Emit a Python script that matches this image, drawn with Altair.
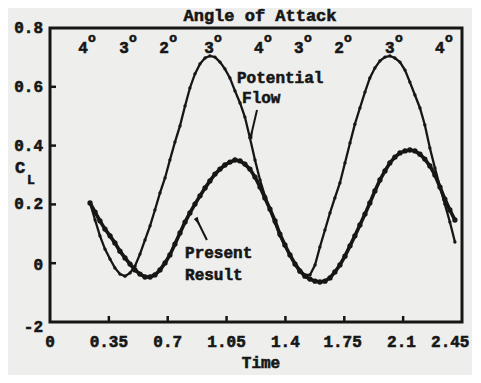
import altair as alt
import pandas as pd

# ---- data ----
time = [0.238, 0.268, 0.297, 0.327, 0.357, 0.386, 0.416, 0.446, 0.476, 0.505,
        0.535, 0.565, 0.595, 0.624, 0.654, 0.684, 0.713, 0.743, 0.773, 0.803,
        0.832, 0.862, 0.892, 0.922, 0.951, 0.981, 1.011, 1.040, 1.070, 1.100,
        1.130, 1.159, 1.189, 1.219, 1.249, 1.278, 1.308, 1.338, 1.367, 1.397,
        1.427, 1.457, 1.486, 1.516, 1.546, 1.576, 1.605, 1.635, 1.665, 1.694,
        1.724, 1.754, 1.784, 1.813, 1.843, 1.873, 1.902, 1.932, 1.962, 1.992,
        2.021, 2.051, 2.081, 2.111, 2.140, 2.170, 2.200, 2.229, 2.259, 2.289,
        2.319, 2.348, 2.378, 2.408]

potential_flow = [0.205, 0.147, 0.093, 0.048, 0.014, -0.016, -0.037, -0.044, -0.033, -0.010,
                  0.031, 0.079, 0.127, 0.181, 0.239, 0.290, 0.351, 0.412, 0.467, 0.535,
                  0.596, 0.644, 0.678, 0.698, 0.705, 0.701, 0.684, 0.661, 0.630, 0.586,
                  0.545, 0.497, 0.426, 0.351, 0.283, 0.229, 0.181, 0.137, 0.093, 0.059,
                  0.028, 0.001, -0.023, -0.040, -0.040, -0.006, 0.055, 0.113, 0.171, 0.222,
                  0.273, 0.341, 0.409, 0.473, 0.528, 0.582, 0.630, 0.664, 0.688, 0.701,
                  0.705, 0.698, 0.684, 0.657, 0.616, 0.572, 0.528, 0.470, 0.392, 0.324,
                  0.259, 0.201, 0.140, 0.072]

present_result = [0.205, 0.174, 0.144, 0.116, 0.093, 0.069, 0.041, 0.018, -0.003, -0.023,
                  -0.037, -0.047, -0.047, -0.040, -0.023, 0.001, 0.028, 0.065, 0.103, 0.140,
                  0.171, 0.201, 0.229, 0.256, 0.280, 0.303, 0.320, 0.334, 0.344, 0.351,
                  0.348, 0.337, 0.320, 0.293, 0.259, 0.222, 0.184, 0.144, 0.099, 0.062,
                  0.028, -0.003, -0.027, -0.044, -0.054, -0.061, -0.064, -0.061, -0.050, -0.030,
                  -0.006, 0.024, 0.059, 0.093, 0.130, 0.167, 0.205, 0.246, 0.283, 0.314,
                  0.341, 0.361, 0.375, 0.382, 0.385, 0.382, 0.371, 0.354, 0.331, 0.300,
                  0.259, 0.218, 0.181, 0.147]

angle_time = [0.214, 0.458, 0.696, 0.963, 1.260, 1.498, 1.736, 2.039, 2.336]
angle_label = ["4", "3", "2", "3", "4", "3", "2", "3", "4"]
angle_level = 0.732

x_tick_labels = ["0", "0.35", "0.7", "1.05", "1.4", "1.75", "2.1", "2.45"]
x_label_at = [0, 0.35, 0.7, 1.05, 1.4, 1.74, 2.09, 2.38]
y_tick_labels = ["-2", "0", "0.2", "0.4", "0.6", "0.8"]
y_label_at = [-0.217, -0.005, 0.2, 0.4, 0.6, 0.8]
x_inner_ticks = [0.35, 0.7, 1.05, 1.4, 1.75, 2.1]
y_inner_ticks = [0, 0.2, 0.4, 0.6]

note_text = ["Potential", "Flow", "Present", "Result"]
note_time = [1.112, 1.142, 0.803, 0.803]
note_value = [0.630, 0.562, 0.035, -0.040]

arrow_t = [1.231, 0.933]
arrow_v = [0.521, 0.079]
arrow_t2 = [1.198, 0.880]
arrow_v2 = [0.440, 0.140]
arrow_angle = [195, 331]

# ---- styling ----
W, H = 412, 294
FONT = "Liberation Mono"
INK = "#161616"
BG = "#eeeeec"
TXT = dict(font=FONT, fontWeight="bold", color=INK, stroke=INK, strokeWidth=0.6)

curves = pd.concat([
    pd.DataFrame({"t": time, "v": potential_flow, "s": "Potential Flow"}),
    pd.DataFrame({"t": time, "v": present_result, "s": "Present Result"}),
])

xs = alt.Scale(domain=[0, 2.45], nice=False, zero=False)
ys = alt.Scale(domain=[-0.2, 0.8], nice=False, zero=False)

X = alt.X("t:Q", scale=xs, axis=None)
Y = alt.Y("v:Q", scale=ys, axis=None)

base = alt.Chart(curves)
pot = base.transform_filter(alt.datum.s == "Potential Flow")
pres = base.transform_filter(alt.datum.s == "Present Result")

pot_line = pot.mark_line(color=INK, strokeWidth=2.3).encode(x=X, y=Y)
pot_pts = pot.mark_circle(color=INK, size=11, opacity=1).encode(x=X, y=Y)
pres_line = pres.mark_line(color=INK, strokeWidth=3.6).encode(x=X, y=Y)
pres_pts = pres.mark_circle(color=INK, size=28, opacity=1).encode(x=X, y=Y)

xt = alt.Chart(pd.DataFrame({"t": x_inner_ticks})).mark_rule(color=INK, strokeWidth=2.5).encode(
    x=X, y=alt.value(H), y2=alt.value(H - 6))
yt = alt.Chart(pd.DataFrame({"v": y_inner_ticks})).mark_rule(color=INK, strokeWidth=2.5).encode(
    y=Y, x=alt.value(0), x2=alt.value(6))

xl = alt.Chart(pd.DataFrame({"t": x_label_at, "lab": x_tick_labels})).mark_text(
    fontSize=16, align="center", baseline="middle", **TXT).encode(
    x=X, y=alt.value(H + 20), text="lab:N")
yl = alt.Chart(pd.DataFrame({"v": y_label_at, "lab": y_tick_labels})).mark_text(
    fontSize=16, align="right", baseline="middle", **TXT).encode(
    y=Y, x=alt.value(-7), text="lab:N")

angles = pd.DataFrame({"t": angle_time, "lab": angle_label, "v": [angle_level] * len(angle_time)})
ang_txt = alt.Chart(angles).mark_text(fontSize=16, baseline="middle", align="center", dx=-3,
                                      **TXT).encode(x=X, y=Y, text="lab:N")
ang_o = alt.Chart(angles).mark_text(fontSize=13, baseline="middle", align="center", dx=6, dy=-10,
                                    **TXT).encode(x=X, y=Y, text=alt.value("o"))

notes = pd.DataFrame({"t": note_time, "v": note_value, "txt": note_text})
note_txt = alt.Chart(notes).mark_text(fontSize=16, align="left", baseline="middle", **TXT).encode(
    x=X, y=Y, text="txt:N")

arrows = pd.DataFrame({"t": arrow_t, "v": arrow_v, "t2": arrow_t2, "v2": arrow_v2, "a": arrow_angle})
arr_line = alt.Chart(arrows).mark_rule(color=INK, strokeWidth=2).encode(
    x=X, y=Y, x2="t2:Q", y2="v2:Q")
arr_head = alt.Chart(arrows).mark_point(shape="M0,1 L0.45,-1 L-0.45,-1 Z", filled=True, color=INK,
                                        size=90, opacity=1).encode(
    x=alt.X("t2:Q", scale=xs, axis=None), y=alt.Y("v2:Q", scale=ys, axis=None),
    angle=alt.Angle("a:Q", scale=None))

one = pd.DataFrame({"k": [0]})
c_txt = alt.Chart(one).mark_text(fontSize=17, align="center", baseline="middle", **TXT).encode(
    x=alt.value(-30), y=alt.value(140), text=alt.value("C"))
l_txt = alt.Chart(one).mark_text(fontSize=13, align="center", baseline="middle", **TXT).encode(
    x=alt.value(-19), y=alt.value(152), text=alt.value("L"))
title_txt = alt.Chart(one).mark_text(fontSize=17, align="center", baseline="middle", **TXT).encode(
    x=alt.value(210), y=alt.value(-12), text=alt.value("Angle of Attack"))
time_txt = alt.Chart(one).mark_text(fontSize=16, align="center", baseline="middle", **TXT).encode(
    x=alt.value(211), y=alt.value(H + 41), text=alt.value("Time"))

chart = alt.layer(
    pot_line, pot_pts, pres_line, pres_pts, xt, yt, xl, yl, ang_txt, ang_o, note_txt,
    arr_line, arr_head, c_txt, l_txt, title_txt, time_txt
).properties(
    width=W, height=H,
    autosize=alt.AutoSizeParams(type="none"),
    padding={"left": 42, "top": 20, "right": 10, "bottom": 53},
    background=BG,
).configure_view(
    stroke=INK, strokeWidth=3
)

chart.save("out.html", embed_options={"renderer": "svg", "actions": False})
